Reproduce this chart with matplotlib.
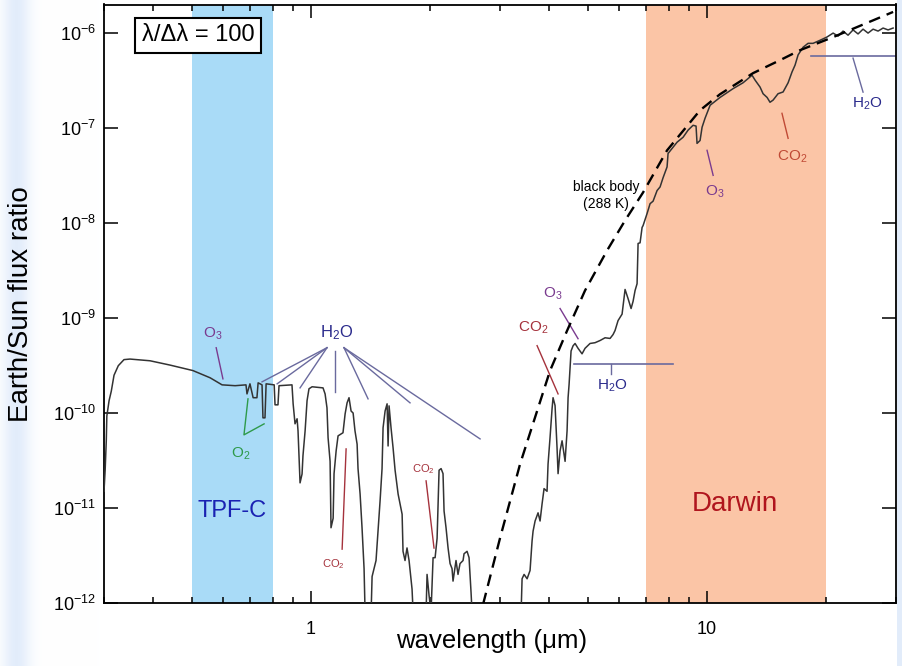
import numpy as np
import matplotlib.pyplot as plt
from matplotlib.ticker import FuncFormatter, NullFormatter, NullLocator, FixedLocator, LogFormatterSciNotation

plt.rcParams['font.family'] = ['Liberation Sans', 'DejaVu Sans']
plt.rcParams['mathtext.fontset'] = 'custom'
plt.rcParams['mathtext.rm'] = 'Liberation Sans'
plt.rcParams['mathtext.it'] = 'Liberation Sans:italic'
plt.rcParams['mathtext.bf'] = 'Liberation Sans:bold'

# Earth spectrum (wavelength in micron, Earth/Sun flux ratio)
wavelength = [
    0.300, 0.302, 0.304, 0.305, 0.309, 0.313, 0.318, 0.326, 0.337, 0.349,
    0.392, 0.440, 0.503, 0.556, 0.596, 0.643, 0.685, 0.689, 0.701, 0.714,
    0.730, 0.735, 0.752, 0.756, 0.765, 0.770, 0.807, 0.811, 0.825, 0.830,
    0.895, 0.901, 0.911, 0.922, 0.927, 0.938, 0.949, 0.954, 0.966, 0.977,
    0.988, 1.006, 1.072, 1.085, 1.097, 1.104, 1.117, 1.123, 1.137, 1.143,
    1.157, 1.170, 1.204, 1.219, 1.233, 1.247, 1.262, 1.277, 1.291, 1.307,
    1.314, 1.330, 1.345, 1.361, 1.369, 1.418, 1.426, 1.459, 1.476, 1.494,
    1.511, 1.520, 1.538, 1.556, 1.565, 1.574, 1.592, 1.611, 1.630, 1.659,
    1.678, 1.698, 1.707, 1.727, 1.747, 1.768, 1.799, 1.810, 1.952, 1.963,
    1.986, 2.009, 2.033, 2.057, 2.081, 2.105, 2.130, 2.154, 2.167, 2.192,
    2.218, 2.244, 2.270, 2.283, 2.323, 2.350, 2.378, 2.420, 2.434, 2.477,
    2.506, 2.535, 2.550, 3.392, 3.411, 3.451, 3.512, 3.573, 3.615, 3.636,
    3.679, 3.743, 3.787, 3.831, 3.876, 3.944, 3.967, 4.013, 4.060, 4.084,
    4.132, 4.180, 4.205, 4.254, 4.304, 4.329, 4.380, 4.431, 4.457, 4.483,
    4.535, 4.588, 4.642, 4.723, 4.834, 4.919, 5.064, 5.213, 5.368, 5.526,
    5.689, 5.789, 5.857, 5.960, 6.101, 6.208, 6.318, 6.429, 6.504, 6.580,
    6.657, 6.696, 6.774, 6.854, 6.893, 7.055, 7.180, 7.306, 7.478, 7.609,
    7.743, 7.925, 7.971, 8.158, 8.399, 8.698, 8.953, 9.218, 9.380, 9.434,
    9.601, 9.714, 9.884, 10.18, 10.78, 11.63, 12.33, 12.99, 13.22, 13.61,
    13.85, 14.18, 14.42, 14.68, 15.11, 15.56, 16.02, 16.39, 16.68, 16.98,
    17.48, 17.99, 18.52, 19.29, 20.09, 20.81, 21.42, 22.05, 22.70, 23.37,
    24.06, 24.77, 25.50, 26.26, 27.03, 27.83, 28.65, 29.50,
]
flux_ratio = [
    1.5e-11, 2.5e-11, 5.1e-11, 9.3e-11, 1.35e-10, 1.7e-10, 2.5e-10, 3.15e-10, 3.65e-10, 3.7e-10,
    3.55e-10, 3.2e-10, 2.8e-10, 2.35e-10, 1.98e-10, 1.94e-10, 1.98e-10, 1.59e-10, 2.03e-10, 1.45e-10,
    1.45e-10, 2.08e-10, 1.98e-10, 8.9e-11, 8.9e-11, 2.03e-10, 1.98e-10, 1.22e-10, 1.22e-10, 1.94e-10,
    1.98e-10, 1.25e-10, 7.7e-11, 8.7e-11, 6.5e-11, 1.84e-11, 2.28e-11, 3.54e-11, 6.5e-11, 1.35e-10,
    1.8e-10, 1.89e-10, 1.84e-10, 1.59e-10, 1.135e-10, 5.5e-11, 3.1e-11, 6.2e-12, 7.8e-12, 2.3e-11,
    4.0e-11, 5.75e-11, 6.2e-11, 9.8e-11, 1.28e-10, 1.45e-10, 1.05e-10, 1.0e-10, 6.5e-11, 4.7e-11,
    2.6e-11, 1.4e-11, 6.2e-12, 2.3e-12, 8e-13, 8e-13, 1.9e-12, 2.8e-12, 5.7e-12, 1.2e-11,
    2.6e-11, 7.0e-11, 1.05e-10, 1.25e-10, 4.5e-11, 1.19e-10, 7.0e-11, 4.3e-11, 2.5e-11, 1.4e-11,
    1.1e-11, 8.6e-12, 3.5e-12, 2.8e-12, 3.8e-12, 2.8e-12, 1.4e-12, 8e-13, 8e-13, 2.0e-12,
    1.2e-12, 8e-13, 3.0e-12, 3.0e-12, 4.8e-12, 2.5e-11, 2.6e-11, 2.3e-11, 9.3e-12, 6.2e-12,
    3.8e-12, 2.6e-12, 2.3e-12, 1.7e-12, 2.8e-12, 2.0e-12, 2.6e-12, 2.8e-12, 3.3e-12, 3.5e-12,
    3.0e-12, 1.3e-12, 8e-13, 8e-13, 1.8e-12, 2.0e-12, 1.8e-12, 2.2e-12, 4.5e-12, 5.7e-12,
    7.3e-12, 8.9e-12, 7.3e-12, 1.1e-11, 1.6e-11, 1.5e-11, 2.9e-11, 5.5e-11, 1.1e-10, 1.45e-10,
    1.2e-10, 4.3e-11, 2.3e-11, 4.0e-11, 5.1e-11, 4.3e-11, 3.1e-11, 6.5e-11, 1.45e-10, 2.0e-10,
    4.5e-10, 5.1e-10, 5.4e-10, 4.8e-10, 4.2e-10, 4.8e-10, 5.4e-10, 5.5e-10, 5.8e-10, 6.2e-10,
    6.1e-10, 6.7e-10, 7.4e-10, 9.4e-10, 1.1e-9, 2.0e-9, 1.6e-9, 1.26e-9, 1.5e-9, 1.95e-9,
    2.3e-9, 6.1e-9, 6.2e-9, 9.0e-9, 9.4e-9, 1.26e-8, 1.6e-8, 1.7e-8, 2.2e-8, 2.4e-8,
    3.0e-8, 3.9e-8, 5.4e-8, 6.1e-8, 7.1e-8, 8.0e-8, 9.5e-8, 1.07e-7, 1.05e-7, 6.9e-8,
    7.4e-8, 1.02e-7, 1.27e-7, 1.74e-7, 2.1e-7, 2.6e-7, 3.0e-7, 3.6e-7, 3.2e-7, 2.7e-7,
    2.3e-7, 2.1e-7, 1.87e-7, 1.97e-7, 2.3e-7, 2.4e-7, 3.0e-7, 3.9e-7, 4.6e-7, 5.9e-7,
    7.1e-7, 7.8e-7, 7.8e-7, 8.4e-7, 9.1e-7, 1.0e-6, 9.3e-7, 1.05e-6, 9.5e-7, 1.08e-6,
    9.8e-7, 1.1e-6, 1.0e-6, 1.1e-6, 1.05e-6, 1.13e-6, 1.08e-6, 1.13e-6,
]

# 288 K black body curve
bb_wavelength = [2.719, 3.001, 3.372, 4.013, 4.431, 4.919, 5.591, 6.208, 6.893,
                 7.925, 9.601, 10.78, 13.07, 15.29, 17.17, 20.81, 29.50]
bb_flux = [9.7e-13, 4.83e-12, 2.91e-11, 2.79e-10, 7.36e-10, 1.95e-9, 5.14e-9, 1.065e-8, 2.10e-8,
           5.83e-8, 1.54e-7, 2.27e-7, 3.79e-7, 5.19e-7, 6.61e-7, 9.07e-7, 1.67e-6]

x_ticks = [1, 10]
y_ticks = [1e-12, 1e-11, 1e-10, 1e-9, 1e-8, 1e-7, 1e-6]
tpf_band = (0.5, 0.8)
darwin_band = (7.0, 20.0)

c_o3 = '#7a3b8f'
c_o2 = '#2e9a4a'
c_h2o = '#2a2a8c'
c_h2o_line = '#6a6a9e'
c_co2 = '#a5323c'

fig = plt.figure(figsize=(9.02, 6.66), dpi=100)

# pale slide background at the edges
xs = np.arange(902)
w = np.exp(-((xs - 16) / 14.0) ** 2) * 0.8 + (xs > 896) * 0.8
tint = np.array([0.86, 0.91, 0.98])
row = 1 - w[:, None] * (1 - tint[None, :])
fig.figimage(np.repeat(row[None, :, :], 666, axis=0), xo=0, yo=0, zorder=-5)

ax = fig.add_axes([104 / 902, 1 - 603 / 666, 792 / 902, 598.5 / 666])
ax.set_xscale('log')
ax.set_yscale('log')
ax.set_xlim(0.3, 30)
ax.set_ylim(1e-12, 2.0e-6)

ax.axvspan(*tpf_band, color='#a9dbf7', lw=0, zorder=0)
ax.axvspan(*darwin_band, color='#fbc5a6', lw=0, zorder=0)

ax.plot(wavelength, flux_ratio, color='#333333', lw=1.1, zorder=3)
ax.plot(bb_wavelength, bb_flux, color='black', lw=1.7, ls=(0, (5, 3)), zorder=4)

ax.text(0.632, 9.3e-12, 'TPF-C', color='#1a22b2', fontsize=17, ha='center', va='center')
ax.text(11.77, 1.1e-11, 'Darwin', color='#b0151d', fontsize=20, ha='center', va='center')
ax.text(0.518, 9.5e-7, r'λ/Δλ = 100', fontsize=17, ha='center', va='center', zorder=6,
        bbox=dict(boxstyle='square,pad=0.28', fc='white', ec='black', lw=1.5))

# O3 (visible)
ax.text(0.566, 6.85e-10, r'O$_3$', color=c_o3, fontsize=11, ha='center', va='center')
ax.plot([0.576, 0.599], [4.87e-10, 2.29e-10], color=c_o3, lw=1)
# O2
ax.text(0.666, 3.71e-11, r'O$_2$', color=c_o2, fontsize=11, ha='center', va='center')
ax.plot([0.693, 0.677, 0.761], [1.41e-10, 5.89e-11, 7.69e-11], color=c_o2, lw=1)
# H2O fan
ax.text(1.163, 7.01e-10, r'H$_2$O', color=c_h2o, fontsize=12, ha='center', va='center')
fan_ends = [(0.752, 2.13e-10), (0.821, 2.03e-10), (0.938, 1.84e-10), (1.150, 1.67e-10),
            (1.393, 1.41e-10), (1.778, 1.28e-10), (2.672, 5.34e-11)]
fan_starts = [(1.097, 4.87e-10)] * 3 + [(1.150, 4.53e-10)] + [(1.211, 4.87e-10)] * 3
for (x0, y0), (x1, y1) in zip(fan_starts, fan_ends):
    ax.plot([x0, x1], [y0, y1], color=c_h2o_line, lw=1)
# CO2 near-IR
ax.text(1.137, 2.57e-12, r'CO$_2$', color=c_co2, fontsize=8, ha='center', va='center')
ax.plot([1.226, 1.198], [4.19e-11, 3.69e-12], color=c_co2, lw=1)
ax.text(1.918, 2.58e-11, r'CO$_2$', color=c_co2, fontsize=8, ha='center', va='center')
ax.plot([1.952, 2.044], [1.93e-11, 3.79e-12], color=c_co2, lw=1)
# 4.3 micron CO2 and O3
ax.text(3.636, 7.92e-10, r'CO$_2$', color=c_co2, fontsize=11, ha='center', va='center')
ax.plot([3.722, 4.205], [5.12e-10, 1.59e-10], color=c_co2, lw=1)
ax.text(4.084, 1.81e-9, r'O$_3$', color=c_o3, fontsize=11, ha='center', va='center')
ax.plot([4.254, 4.723], [1.26e-9, 6.06e-10], color=c_o3, lw=1)
# 6 micron H2O
ax.plot([4.615, 8.206], [3.30e-10, 3.30e-10], color=c_h2o_line, lw=1.2)
ax.plot([5.723, 5.723], [3.30e-10, 2.59e-10], color=c_h2o_line, lw=1)
ax.text(5.757, 1.94e-10, r'H$_2$O', color=c_h2o, fontsize=11, ha='center', va='center')
# 9.6 micron O3
ax.text(10.48, 2.15e-8, r'O$_3$', color=c_o3, fontsize=11, ha='center', va='center')
ax.plot([10.0, 10.36], [5.83e-8, 3.18e-8], color=c_o3, lw=1)
# 15 micron CO2
ax.text(16.39, 5.04e-8, r'CO$_2$', color='#c04a35', fontsize=11, ha='center', va='center')
ax.plot([15.46, 16.02], [1.43e-7, 7.80e-8], color='#c04a35', lw=1)
# far-IR H2O
ax.plot([18.31, 30], [5.72e-7, 5.72e-7], color=c_h2o_line, lw=1.2)
ax.plot([23.37, 24.77], [5.45e-7, 2.39e-7], color=c_h2o_line, lw=1)
ax.text(25.35, 1.78e-7, r'H$_2$O', color=c_h2o, fontsize=11, ha='center', va='center')
# black body label
ax.text(5.558, 1.95e-8, 'black body\n(288 K)', fontsize=10, ha='center', va='center',
        multialignment='center', linespacing=1.3)

ax.xaxis.set_major_locator(FixedLocator(x_ticks))
ax.xaxis.set_major_formatter(FuncFormatter(lambda v, p: f'{v:g}'))
ax.xaxis.set_minor_formatter(NullFormatter())
ax.yaxis.set_major_locator(FixedLocator(y_ticks))
ax.yaxis.set_major_formatter(LogFormatterSciNotation())
ax.yaxis.set_minor_locator(NullLocator())
ax.tick_params(which='both', direction='in', top=True, right=True, width=1.1, labelsize=13)
ax.tick_params(which='minor', labelbottom=False, labelleft=False)
ax.tick_params(axis='x', which='major', length=9, pad=13)
ax.tick_params(axis='x', which='minor', length=4)
ax.tick_params(axis='y', which='major', length=10, pad=6)
for s in ax.spines.values():
    s.set_linewidth(1.3)

ax.set_xlabel('wavelength (μm)', fontsize=18.5)
ax.xaxis.set_label_coords(0.49, -0.043)
ax.set_ylabel('Earth/Sun flux ratio', fontsize=20)
ax.yaxis.set_label_coords(-0.088, 0.5)

fig.savefig('out.png', dpi=100)
